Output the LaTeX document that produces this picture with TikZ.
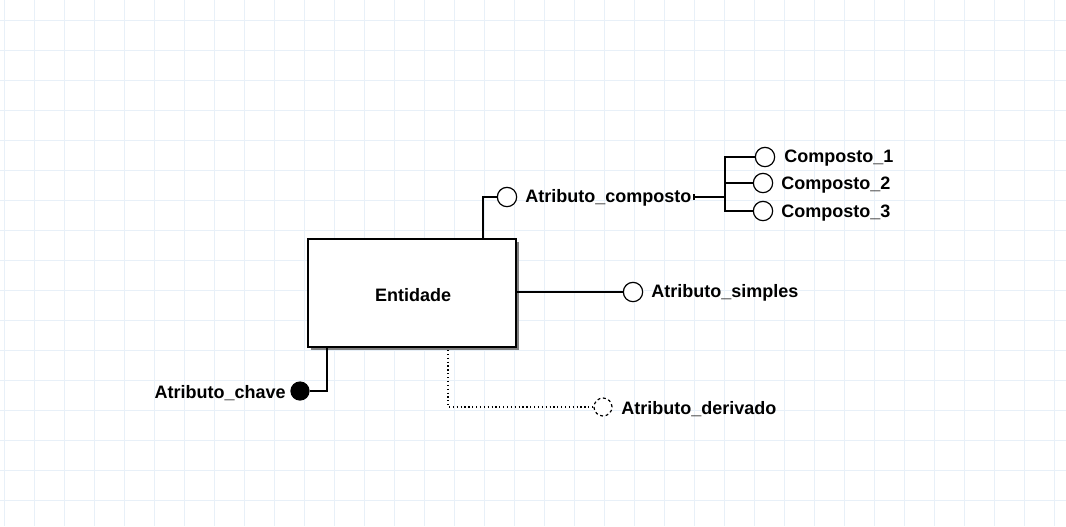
\documentclass[tikz,border=0pt]{standalone}
\usepackage{fontspec}
\setmainfont{Liberation Sans}
\usetikzlibrary{shadows}
\definecolor{gridblue}{RGB}{232,240,248}
\tikzset{
  entbox/.style={draw, line width=1pt, fill=white, minimum width=156pt, minimum height=81pt,
    drop shadow={shadow xshift=2.2pt, shadow yshift=-2.2pt, fill=black!50, opacity=1}},
  attr/.style={circle, draw, line width=0.9pt, fill=white, minimum size=14.5pt, inner sep=0pt},
  keyattr/.style={attr, fill=black, minimum size=13.5pt},
  derattr/.style={attr, dash pattern=on 2.2pt off 2pt, minimum size=13.5pt},
  lbl/.style={font=\bfseries\fontsize{13.5}{15}\selectfont, inner sep=0pt},
  link/.style={line width=0.9pt}
}
\begin{document}
\begin{tikzpicture}[x=0.75pt,y=-0.75pt]
			%%%%% GRID %%%%%
			\useasboundingbox (0,0) rectangle (1066,526);
			\fill[white] (0,0) rectangle (1066,526);
			\foreach \gx in {4,34,...,1066}
				\draw[gridblue, line width=0.75pt] (\gx,0) -- (\gx,526);
			\foreach \gy in {20,50,...,526}
				\draw[gridblue, line width=0.75pt] (0,\gy) -- (1066,\gy);
			
			%%%%% ENTITY %%%%%
			\node[entbox] (ent) at (412,293) {};
			\node[lbl] (entlbl) at (413,295) {Entidade};
			
			%%%%% COMPOSITE %%%%%
			\node[attr] (cmp) at (507,197) {};
			\node[lbl, anchor=west] (cmplbl) at (525,198) {Atributo\_composto};
			\coordinate (cmpfoot) at (483,239);
			\draw[link] (cmpfoot) |- (cmp);
			
			\coordinate (cmptip) at (694,197);
			\coordinate (cmpfork) at (725,197);
			\draw[line width=1.6pt] (cmptip) -- (cmpfork);
			\draw[line width=1pt] (cmptip) ++(0,-3) -- ++(0,6);
			
			\node[attr] (cp1) at (765,157) {};
			\node[attr] (cp2) at (763,183) {};
			\node[attr] (cp3) at (763,211) {};
			\node[lbl, anchor=west] (cp1lbl) at (784,158) {Composto\_1};
			\node[lbl, anchor=west] (cp2lbl) at (781,185) {Composto\_2};
			\node[lbl, anchor=west] (cp3lbl) at (781,213) {Composto\_3};
			\draw[link] (cp1) -| (cmpfork) |- (cp3);
			\draw[link] (cmpfork |- cp2) -- (cp2);
			
			%%%%% SIMPLE %%%%%
			\node[attr] (smp) at (633,292) {};
			\node[lbl, anchor=west] (smplbl) at (651,293) {Atributo\_simples};
			\draw[link] (ent.east |- smp) -- (smp);
			
			%%%%% KEY %%%%%
			\node[keyattr] (key) at (300,391) {};
			\node[lbl, anchor=east] (keylbl) at (286,393) {Atributo\_chave};
			\coordinate (keyfoot) at (327,347);
			\draw[link] (keyfoot) |- (key);
			
			%%%%% DERIVED %%%%%
			\node[derattr] (der) at (603,407) {};
			\node[lbl, anchor=west] (derlbl) at (621,409) {Atributo\_derivado};
			\coordinate (derfoot) at (448,350);
			\draw[link, dotted] (derfoot) |- (der);
			
\end{tikzpicture}
\end{document}
